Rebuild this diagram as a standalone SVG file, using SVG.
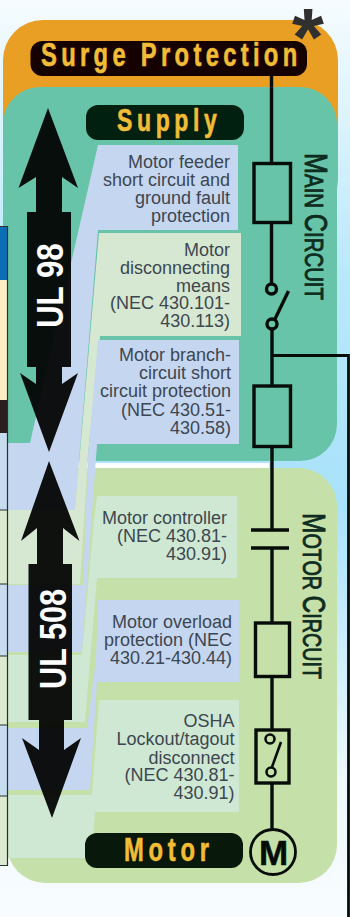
<svg xmlns="http://www.w3.org/2000/svg" width="350" height="917" viewBox="0 0 350 917">
<style>
.p{font-family:"Liberation Sans",Arial,sans-serif;font-size:18px;fill:#3d4750;text-anchor:end}
.pill{font-family:"Liberation Sans",Arial,sans-serif;font-weight:bold;fill:#f2bd36;stroke:#f2bd36;stroke-width:.6}
.ul{font-family:"Liberation Sans",Arial,sans-serif;font-weight:bold;fill:#fff}
.side{font-family:"Liberation Sans",Arial,sans-serif;fill:#0f2c20;stroke:#0f2c20;stroke-width:.9}
.w{fill:none;stroke:#060d08;stroke-width:3.4}
.arrow{fill:#000;fill-opacity:.93}
.blue{fill:#c5d6f0}
.pale{fill:#d6e8d1}
.tl{stroke:#2a2e2e;stroke-width:1.2}
</style>
<defs>
<linearGradient id="bg" x1="0" y1="0" x2="0" y2="1">
<stop offset="0" stop-color="#f6fcfe"/><stop offset=".3" stop-color="#b9e8fb"/><stop offset=".55" stop-color="#a9e2fa"/><stop offset=".85" stop-color="#eef8fe"/><stop offset="1" stop-color="#f8fcff"/>
</linearGradient>
</defs>
<rect width="350" height="917" fill="url(#bg)"/>
<g id="zones">
<rect x="3" y="20" width="335" height="200" rx="40" fill="#e89f23"/>
<rect x="3" y="87" width="334" height="374" rx="37" fill="#68c4a9"/>
<rect x="78" y="463" width="191" height="5" fill="#fff"/>
<rect x="7" y="468" width="330" height="415" rx="38" fill="#c5e0a8"/>
</g>
<g id="bands">
<polygon class="blue" points="98,145 238,145 238,230 98,230 75,510 8,510 8,443 30,443"/>
<polygon class="pale" points="99,233 241,233 241,336 100,336 88,455 80,584 8,584 8,510 75,510"/>
<polygon class="blue" points="98,340 239,340 239,444 97,444 82,652 8,652 8,585 83,585 88,455"/>
<polygon class="pale" points="97,496 237,496 237,578 97,578 85,722 8,722 8,655 82,655 94,520" style="fill:#cfe8d3"/>
<polygon class="blue" points="98,600 239,600 239,682 97,682 90,790 8,790 8,728 87,728 96,660"/>
<polygon class="pale" points="99,700 239,700 239,812 95,812 92,850 85,858 8,858 8,795 92,795" style="fill:#cfe8d3"/>
</g>
<g id="table">
<rect x="0" y="227" width="7" height="53" fill="#0b6fb8"/>
<rect x="0" y="280" width="7" height="120" fill="#fdecc4"/>
<rect x="0" y="400" width="7" height="33" fill="#2b1f20"/>
<rect x="0" y="433" width="7" height="77" fill="#c7dcef"/>
<rect x="0" y="510" width="7" height="74" fill="#dcebd0"/>
<rect x="0" y="584" width="7" height="72" fill="#c7dcef"/>
<rect x="0" y="656" width="7" height="69" fill="#dcebd0"/>
<rect x="0" y="725" width="7" height="71" fill="#c7dcef"/>
<rect x="0" y="796" width="7" height="69" fill="#dcebd0"/>
<path class="tl" fill="none" d="M0 226.500H7.500V865.500H0M0 510H7M0 584H7M0 656H7M0 725H7M0 796H7"/>
</g>
<g id="connectors">
<path class="w" d="M271.500 75V163M271.500 222V284M272 329V386M272 447V530M272 548V623M272 676V730M272 783V830"/>
<path class="w" d="M272 355.500H348.500V917" style="stroke-width:2.800"/>
</g>
<g id="ul98">
<polygon class="arrow" points="48,108 78,188 62,177 62,212 71,212 71,367 62,367 62,384 78,373 49,452 20,373 36,384 36,367 27,367 27,212 36,212 36,177 18.500,188"/>
<text class="ul" font-size="36" transform="translate(63,328) rotate(-90) scale(.87,1)">UL 98</text>
</g>
<g id="ul508">
<polygon class="arrow" points="49,461 79.500,541 63,528 63,564 72,564 72,720 64,720 64,750 81,738 52,818 22,738 39,750 39,720 28.500,720 28.500,564 37,564 37,528 21,541"/>
<text class="ul" font-size="37" transform="translate(66,689) rotate(-90) scale(.83,1)">UL 508</text>
</g>
<g id="surge-protection">
<rect x="30.500" y="41" width="276.500" height="35" rx="12" fill="#150200"/>
<text class="pill" font-size="33" letter-spacing="6" transform="translate(41,66) scale(.72,1)">Surge Protection</text>
<text x="292" y="65" font-family="Liberation Sans,sans-serif" font-weight="bold" font-size="82" fill="#30302e">*</text>
</g>
<g id="supply">
<rect x="86" y="105" width="158" height="35" rx="12" fill="#02200f"/>
<text class="pill" font-size="32" letter-spacing="6.400" transform="translate(117,131) scale(.72,1)">Supply</text>
</g>
<g id="motor">
<rect x="85" y="833" width="158" height="35" rx="12" fill="#08180a"/>
<text class="pill" font-size="33" letter-spacing="6.600" transform="translate(124,861) scale(.72,1)">Motor</text>
<circle cx="273" cy="852" r="22.500" fill="none" stroke="#060d08" stroke-width="2.800"/>
<text x="273.500" y="864.500" text-anchor="middle" font-family="Liberation Sans,sans-serif" font-weight="bold" font-size="35" fill="#060d08" stroke="#060d08" stroke-width=".5">M</text>
</g>
<g id="main-circuit">
<text class="side" transform="translate(305,153) rotate(90)" textLength="147" lengthAdjust="spacingAndGlyphs" font-size="31">M<tspan font-size="25">AIN </tspan>C<tspan font-size="25">IRCUIT</tspan></text>
</g>
<g id="motor-circuit">
<text class="side" transform="translate(303,513) rotate(90)" textLength="166" lengthAdjust="spacingAndGlyphs" font-size="31">M<tspan font-size="25">OTOR </tspan>C<tspan font-size="25">IRCUIT</tspan></text>
</g>
<g id="fuse-1"><rect class="w" x="254" y="163.500" width="36.500" height="59"/></g>
<g id="switch-1">
<circle class="w" cx="271.500" cy="289" r="5"/><circle class="w" cx="272" cy="324" r="5"/>
<path class="w" d="M274.500 320L288.500 291"/>
</g>
<g id="fuse-2"><rect class="w" x="254" y="386" width="36.500" height="60.500"/></g>
<g id="contactor"><path class="w" d="M251 530H289M251 548H289"/></g>
<g id="fuse-3"><rect class="w" x="255.500" y="623" width="34" height="53.500"/></g>
<g id="lockout">
<rect class="w" x="256" y="730" width="33" height="53"/>
<circle class="w" cx="270" cy="739" r="4.500" style="stroke-width:2.600"/><circle class="w" cx="271" cy="772" r="4.500" style="stroke-width:2.600"/>
<path class="w" d="M272 767L281 742" style="stroke-width:2.600"/>
</g>
<g id="label-feeder">
<text class="p" x="230" y="168.300">Motor feeder</text><text class="p" x="230" y="186">short circuit and</text><text class="p" x="230" y="204">ground fault</text><text class="p" x="230" y="222">protection</text>
</g>
<g id="label-disconnect">
<text class="p" x="230" y="255.700">Motor</text><text class="p" x="230" y="274">disconnecting</text><text class="p" x="230" y="291.700">means</text><text class="p" x="230" y="309">(NEC 430.101-</text><text class="p" x="230" y="326.700">430.113)</text>
</g>
<g id="label-branch">
<text class="p" x="231" y="361">Motor branch-</text><text class="p" x="231" y="379">circuit short</text><text class="p" x="231" y="397">circuit protection</text><text class="p" x="231" y="415.700">(NEC 430.51-</text><text class="p" x="231" y="434">430.58)</text>
</g>
<g id="label-controller">
<text class="p" x="227" y="524">Motor controller</text><text class="p" x="227" y="541.700">(NEC 430.81-</text><text class="p" x="227" y="560">430.91)</text>
</g>
<g id="label-overload">
<text class="p" x="232" y="628">Motor overload</text><text class="p" x="232" y="646">protection (NEC</text><text class="p" x="232" y="664.300">430.21-430.44)</text>
</g>
<g id="label-osha">
<text class="p" x="234.500" y="727">OSHA</text><text class="p" x="234.500" y="745">Lockout/tagout</text><text class="p" x="234.500" y="763.700">disconnect</text><text class="p" x="234.500" y="781">(NEC 430.81-</text><text class="p" x="234.500" y="799.300">430.91)</text>
</g>
</svg>
